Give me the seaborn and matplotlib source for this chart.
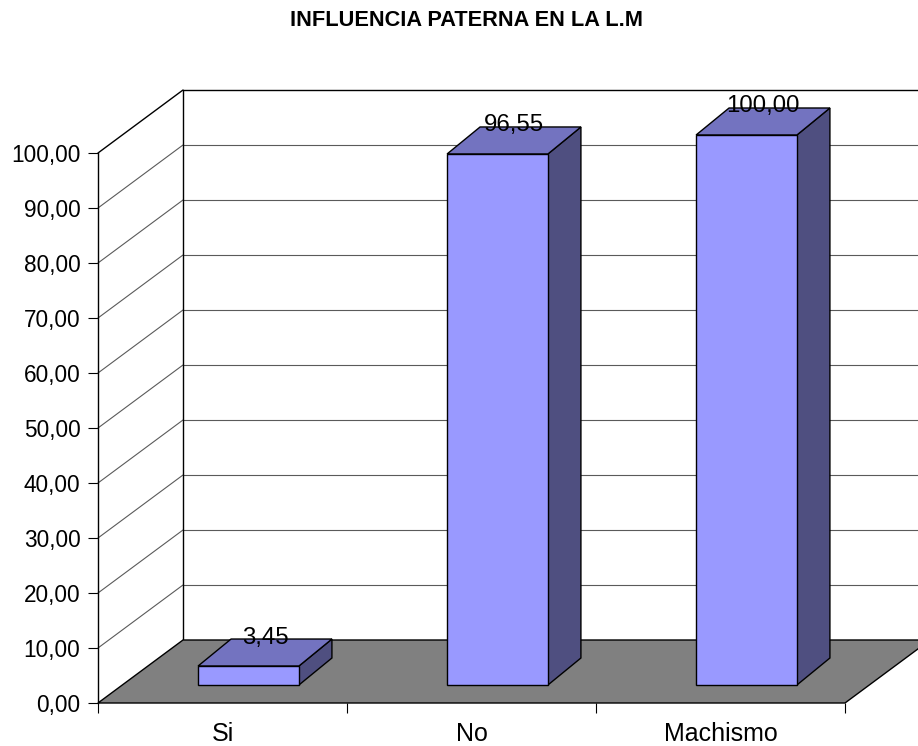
import matplotlib
matplotlib.use("Agg")
import matplotlib.pyplot as plt
import seaborn as sns
import pandas as pd
from matplotlib.patches import Polygon
from matplotlib.lines import Line2D

# ---- data ----
categories = ["Si", "No", "Machismo"]
values = [3.45, 96.55, 100.00]
y_ticks = [0, 10, 20, 30, 40, 50, 60, 70, 80, 90, 100]
title = "INFLUENCIA PATERNA EN LA L.M"

# ---- style ----
sns.set_style("white")
plt.rcParams['font.family'] = ['Liberation Sans', 'DejaVu Sans']

W, H = 918, 746
fig = plt.figure(figsize=(W / 100, H / 100), dpi=100)
ax = fig.add_axes([98 / W, (H - 703) / H, 747 / W, 550 / H])

df = pd.DataFrame({"cat": categories, "val": values})
sns.barplot(data=df, x="cat", y="val", color="#9999FF", saturation=1,
            width=0.405, edgecolor="black", linewidth=1.0, ax=ax, zorder=5)
ax.set_xlim(-0.5, 2.5)
ax.set_ylim(0, 100)

# pixel -> data unit helpers (based on axes size)
px_x = 747 / 3.0
px_y = 550 / 100.0
def ox(px):
    return px / px_x
def oy(px):
    return px / px_y

# depth offsets
wx, wy = ox(85), oy(63)      # back wall
fx, fy = ox(26), oy(18)      # bar front plane
bx, by = ox(59), oy(45)      # bar back plane
x_far = 3.6

grid_c = "#5a5a5a"
# back wall gridlines & side-wall diagonals
for v in y_ticks:
    if v == 0:
        continue
    col = "black" if v == 100 else grid_c
    lw = 1.0 if v == 100 else 0.8
    ax.add_line(Line2D([-0.5 + wx, x_far], [v + wy, v + wy], color=col, lw=lw,
                       zorder=2, clip_on=False))
    ax.add_line(Line2D([-0.5, -0.5 + wx], [v, v + wy], color=col, lw=lw,
                       zorder=2, clip_on=False))
# back wall left edge
ax.add_line(Line2D([-0.5 + wx, -0.5 + wx], [wy, 100 + wy], color="black", lw=1.0,
                   zorder=2, clip_on=False))

# floor
floor = Polygon([(-0.5, 0), (2.5, 0), (2.5 + wx, wy), (-0.5 + wx, wy)],
                closed=True, facecolor="#808080", edgecolor="black", lw=1.0,
                zorder=3, clip_on=False, joinstyle="miter")
bars = list(ax.patches)
ax.add_patch(floor)

# 3D bars
for p, v in zip(bars, values):
    x0 = p.get_x()
    w = p.get_width()
    h = p.get_height()
    p.set_x(x0 + fx)
    p.set_y(fy)
    p.set_clip_on(False)
    p.set_joinstyle("miter")
    x1 = x0 + w
    top = Polygon([(x0 + fx, fy + h), (x1 + fx, fy + h), (x1 + bx, by + h), (x0 + bx, by + h)],
                  closed=True, facecolor="#7373C0", edgecolor="black", lw=1.0,
                  zorder=4, clip_on=False, joinstyle="miter")
    side = Polygon([(x1 + fx, fy), (x1 + fx, fy + h), (x1 + bx, by + h), (x1 + bx, by)],
                   closed=True, facecolor="#4F4F80", edgecolor="black", lw=1.0,
                   zorder=4, clip_on=False, joinstyle="miter")
    ax.add_patch(side)
    ax.add_patch(top)
    cx = x0 + w / 2 + (fx + bx) / 2
    cy = h + (fy + by) / 2 + oy(15)
    ax.text(cx, cy, f"{v:.2f}".replace(".", ","), ha="center", va="center",
            fontsize=17.3, color="black", zorder=7)

# axes / ticks
ax.set_xlabel("")
ax.set_ylabel("")
ax.set_yticks(y_ticks)
ax.set_yticklabels([f"{t:.2f}".replace(".", ",") for t in y_ticks])
ax.set_xticks(range(len(categories)))
ax.set_xticklabels(categories)
ax.set_xticks([-0.5, 0.5, 1.5, 2.5], minor=True)
ax.tick_params(axis="y", left=True, direction="out", length=7.2, width=0.8,
               pad=5.5, labelsize=16.3, colors="black")
ax.tick_params(axis="x", which="major", bottom=True, length=0, pad=14,
               labelsize=18, colors="black")
ax.tick_params(axis="x", which="minor", bottom=True, direction="out", length=7.2,
               width=0.8, color="black")
for s in ["top", "right", "bottom"]:
    ax.spines[s].set_visible(False)
ax.spines["left"].set_color("black")
ax.spines["left"].set_linewidth(1.0)
ax.spines["left"].set_zorder(6)
ax.set_facecolor("none")
ax.patch.set_alpha(0)

fig.text(467 / W, 1 - 20.5 / H, title, ha="center", va="center",
         fontsize=15.7, fontweight="bold", color="black")

fig.savefig("out.png", dpi=100, facecolor="white")
